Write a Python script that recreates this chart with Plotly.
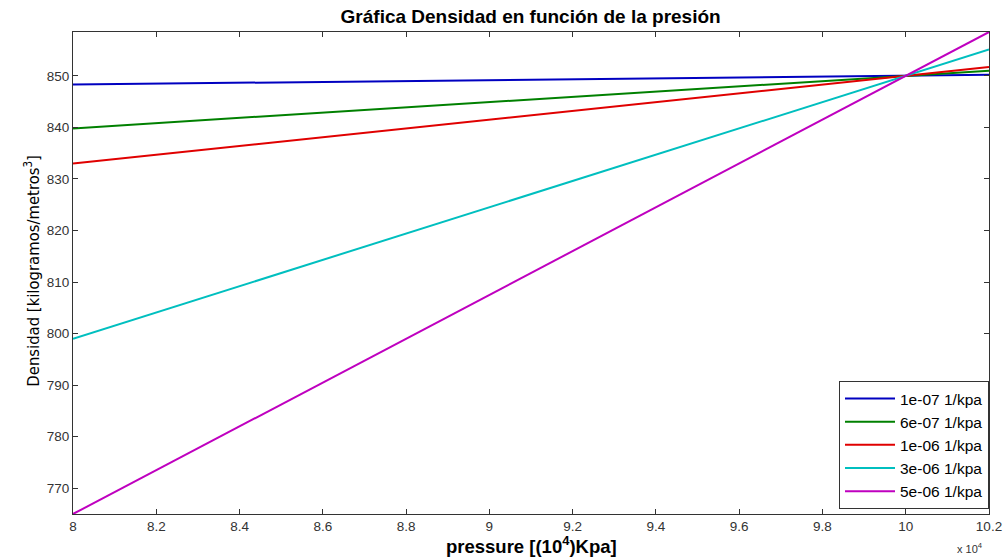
import plotly.graph_objects as go

# Data (straight lines: values at start and end pressure)
pressure = [80000, 102000]
labels = ["1e-07 1/kpa", "6e-07 1/kpa", "1e-06 1/kpa", "3e-06 1/kpa", "5e-06 1/kpa"]
dens_1e7 = [848.3, 850.2]
dens_6e7 = [839.8, 851.0]
dens_1e6 = [833.0, 851.7]
dens_3e6 = [799.0, 855.1]
dens_5e6 = [765.0, 858.5]
series = [dens_1e7, dens_6e7, dens_1e6, dens_3e6, dens_5e6]
colors = ["#0000C0", "#008000", "#E00000", "#00BFBF", "#BF00BF"]

x_tickvals = [80000, 82000, 84000, 86000, 88000, 90000, 92000, 94000, 96000, 98000, 100000, 102000]
x_ticktext = ["8", "8.2", "8.4", "8.6", "8.8", "9", "9.2", "9.4", "9.6", "9.8", "10", "10.2"]
y_tickvals = [770, 780, 790, 800, 810, 820, 830, 840, 850]

fig = go.Figure()
for lab, ys, c in zip(labels, series, colors):
    fig.add_trace(go.Scatter(x=pressure, y=ys, mode="lines", name=lab,
                             line=dict(color=c, width=2)))

axis_common = dict(showline=True, linecolor="#333333", linewidth=1, mirror="ticks",
                   ticks="inside", ticklen=5, tickcolor="#333333", showgrid=False,
                   zeroline=False, automargin=False,
                   tickfont=dict(family="Liberation Sans, Arial", size=13.5, color="#333333"))

fig.update_layout(
    width=1005, height=557,
    margin=dict(l=73, r=16, t=32, b=43),
    paper_bgcolor="white", plot_bgcolor="white",
    title=dict(text="<b>Gráfica Densidad en función de la presión</b>",
               x=0.528, xanchor="center", y=0.971, yanchor="middle",
               font=dict(family="Liberation Sans, Arial", size=19, color="#000000")),
    xaxis=dict(range=[80000, 102000], tickvals=x_tickvals, ticktext=x_ticktext,
               **axis_common),
    yaxis=dict(range=[765, 858.5], tickvals=y_tickvals,
               **axis_common),
    legend=dict(x=1, xanchor="right", y=0.0104, yanchor="bottom",
                bgcolor="white", bordercolor="#333333", borderwidth=1,
                font=dict(family="Liberation Sans, Arial", size=15.5, color="#000000"),
                tracegroupgap=0, itemwidth=50),
    showlegend=True,
)

# axis titles placed as annotations to match the reference position
fig.add_annotation(text="<b>pressure [(10<sup>4</sup>)Kpa]</b>", xref="paper", yref="paper",
                   x=0.5, y=-0.065, xanchor="center", yanchor="middle", showarrow=False,
                   font=dict(family="Liberation Sans, Arial", size=18.5, color="#000000"))
fig.add_annotation(text="Densidad [kilogramos/metros<sup>3</sup>]", xref="paper", yref="paper",
                   x=-0.0447, y=0.505, xanchor="center", yanchor="middle", textangle=-90,
                   showarrow=False,
                   font=dict(family="DejaVu Sans Condensed, Liberation Sans Narrow, Arial", size=16.5, color="#000000"))

fig.add_annotation(text="x 10<sup>4</sup>", xref="paper", yref="paper", x=0.9956, y=-0.052,
                   xanchor="right", yanchor="top", showarrow=False,
                   font=dict(family="Liberation Sans, Arial", size=11, color="#333333"))

fig.write_html("out.html")
